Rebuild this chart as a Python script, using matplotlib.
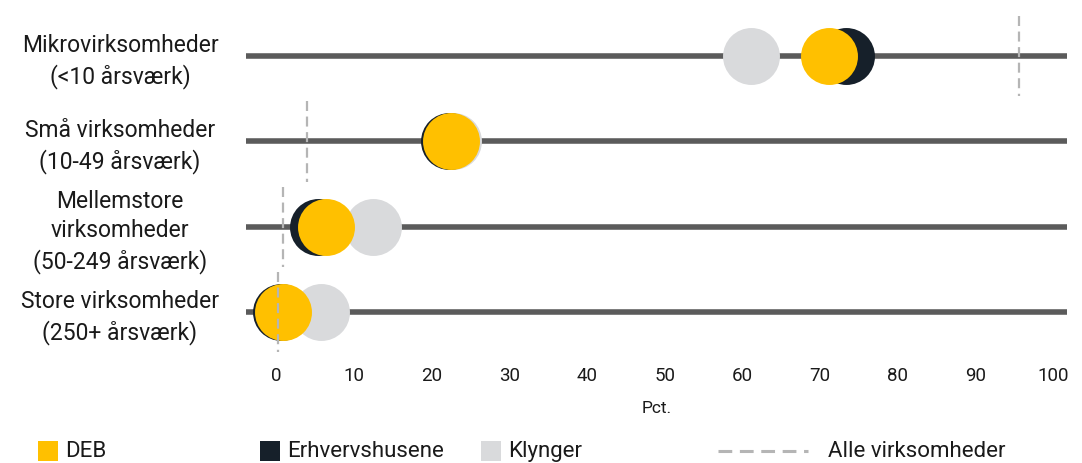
import matplotlib
matplotlib.use("Agg")
import matplotlib.pyplot as plt
from matplotlib.patches import Rectangle
from matplotlib.lines import Line2D
from matplotlib.transforms import blended_transform_factory

# --- Data ---
categories = [
    "Mikrovirksomheder\n(<10 årsværk)",
    "Små virksomheder\n(10-49 årsværk)",
    "Mellemstore\nvirksomheder\n(50-249 årsværk)",
    "Store virksomheder\n(250+ årsværk)",
]
deb = [71.2, 22.5, 6.4, 0.9]
erhvervshusene = [73.3, 22.2, 5.4, 0.6]
klynger = [61.1, 22.7, 12.4, 5.7]
alle = [95.6, 3.9, 0.9, 0.2]
xticks = list(range(0, 101, 10))

# --- Style ---
C_DEB = "#FFC000"
C_ERH = "#16202A"
C_KLY = "#D9DADC"
C_LINE = "#5B5B5B"
C_DASH = "#B5B5B5"
TXT = "#1A1A1A"
FONT = "Roboto"

W, H = 1082, 464
fig = plt.figure(figsize=(W / 100, H / 100), dpi=100)
ax = fig.add_axes([246 / W, 1 - 355 / H, (1067 - 246) / W, 345 / H])

rows = list(range(len(categories)))
msize = 41 ** 2

for y in rows:
    ax.axhline(y, color=C_LINE, lw=4, zorder=1)

ax.scatter(klynger, rows, s=msize, color=C_KLY, lw=0, zorder=2)
ax.scatter(erhvervshusene, rows, s=msize, color=C_ERH, lw=0, zorder=3)
ax.scatter(deb, rows, s=msize, color=C_DEB, lw=0, zorder=4)

for y, a in zip(rows, alle):
    ax.vlines(a, y - 0.47, y + 0.47, colors=C_DASH, lw=1.6,
              linestyles=(0, (4.5, 2.5)), zorder=5)

ax.set_xlim(-3.9, 101.8)
ax.set_ylim(3.49, -0.55)
ax.set_xticks(xticks)
ax.set_xticklabels([str(t) for t in xticks], family=FONT, fontsize=13.5, color=TXT)
ax.set_yticks([])
ax.tick_params(axis="x", length=0, pad=9)
for s in ax.spines.values():
    s.set_visible(False)
ax.set_xlabel("Pct.", family=FONT, fontsize=12.5, color=TXT, labelpad=11)

# row labels, centred in the left margin
trans = blended_transform_factory(fig.transFigure, ax.transData)
for y, lab in zip(rows, categories):
    ax.text(120 / W, y + 0.05, lab, transform=trans, ha="center", va="center",
            multialignment="center", family=FONT, fontsize=16.5,
            linespacing=1.35, color=TXT)

# --- Legend along the bottom ---
ly = 1 - 452 / H
sq = 20
for x0, col, lab in [(38, C_DEB, "DEB"), (260, C_ERH, "Erhvervshusene"), (481, C_KLY, "Klynger")]:
    fig.add_artist(Rectangle((x0 / W, ly - sq / 2 / H), sq / W, sq / H,
                             transform=fig.transFigure, color=col, lw=0))
    fig.text((x0 + sq + 7) / W, ly, lab, ha="left", va="center",
             family=FONT, fontsize=16, color=TXT)

fig.add_artist(Line2D([718 / W, 808 / W], [ly, ly], transform=fig.transFigure,
                      color=C_DASH, lw=2.2, linestyle=(0, (4.5, 2.5))))
fig.text(828 / W, ly, "Alle virksomheder", ha="left", va="center",
         family=FONT, fontsize=16, color=TXT)

fig.savefig("out.png", dpi=100)
